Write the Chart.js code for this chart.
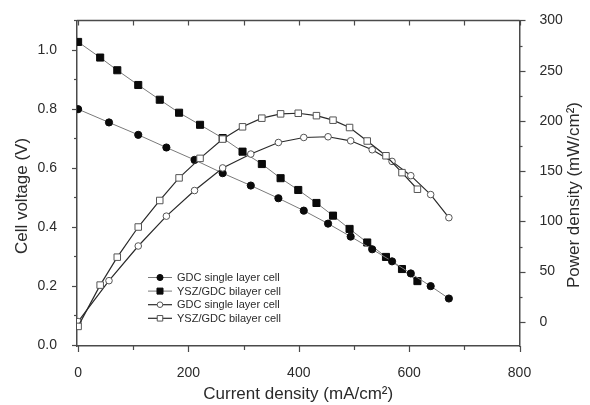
<!DOCTYPE html>
<html>
<head>
<meta charset="utf-8">
<script src="https://cdn.jsdelivr.net/npm/chart.js@4.4.1/dist/chart.umd.min.js"></script>
<style>
  html, body { margin: 0; padding: 0; background: #ffffff; }
  #wrap { width: 590px; height: 405px; position: relative; }
</style>
</head>
<body>
<div id="wrap"><canvas id="c" width="590" height="405"></canvas></div>
<script>
// ---- Data ----
const currentBilayer = [0, 40, 71, 109, 148, 183, 221, 262, 298, 333, 367, 399, 432, 462, 492, 524, 558, 587, 615];
const voltageBilayer = [1.027, 0.974, 0.931, 0.881, 0.831, 0.787, 0.746, 0.701, 0.655, 0.613, 0.565, 0.525, 0.481, 0.438, 0.393, 0.347, 0.298, 0.257, 0.216];
const powerBilayer = [-4.5, 36.6, 64.4, 94.4, 120.8, 143.3, 162.7, 181.9, 194.1, 202.7, 207.0, 207.6, 205.2, 200.7, 193.4, 180.0, 165.3, 148.5, 132.0];

const currentSingle = [0, 56, 109, 160, 211, 262, 313, 363, 409, 453, 494, 533, 569, 603, 639, 672];
const voltageSingle = [0.799, 0.754, 0.712, 0.669, 0.627, 0.582, 0.540, 0.497, 0.455, 0.411, 0.367, 0.324, 0.283, 0.242, 0.199, 0.157];
const powerSingle = [0.3, 41.0, 75.5, 105.2, 130.7, 153.2, 167.0, 178.5, 183.5, 184.2, 180.2, 171.3, 159.7, 145.5, 126.7, 103.7];

const seriesLabels = ["GDC single layer cell", "YSZ/GDC bilayer cell", "GDC single layer cell", "YSZ/GDC bilayer cell"];

const xTicks = [0, 200, 400, 600, 800];
const voltageTicks = [0.0, 0.2, 0.4, 0.6, 0.8, 1.0];
const powerTicks = [0, 50, 100, 150, 200, 250, 300];

const xTitle = "Current density (mA/cm\u00B2)";
const leftTitle = "Cell voltage (V)";
const rightTitle = "Power density (mW/cm\u00B2)";

// ---- Helpers ----
const pts = (xs, ys) => xs.map((x, i) => ({ x: x, y: ys[i] }));
const FONT = "'Liberation Sans', Arial, sans-serif";
const AXIS_COLOR = '#4a4a4a';
const TEXT_COLOR = '#2b2b2b';

const frameAndExtras = {
  id: 'frameAndExtras',
  afterDraw(chart) {
    const ctx = chart.ctx;
    const a = chart.chartArea;
    const xs = chart.scales.x, yl = chart.scales.yV, yr = chart.scales.yP;
    ctx.save();
    ctx.strokeStyle = AXIS_COLOR;
    ctx.lineWidth = 1.5;
    // top frame line
    ctx.beginPath();
    ctx.moveTo(a.left, a.top); ctx.lineTo(a.right, a.top);
    ctx.stroke();
    ctx.lineWidth = 1.2;
    // x ticks: bottom (outward) and top (inward)
    for (let v = 0; v <= 800; v += 100) {
      const px = Math.round(xs.getPixelForValue(v)) + 0.5;
      const major = v % 200 === 0;
      ctx.beginPath();
      ctx.moveTo(px, a.bottom); ctx.lineTo(px, a.bottom + (major ? 6 : 4));
      ctx.moveTo(px, a.top); ctx.lineTo(px, a.top + 5);
      ctx.stroke();
    }
    // left ticks (outward)
    for (let i = 0; i <= 11; i++) {
      const v = i / 10;
      const py = Math.round(yl.getPixelForValue(v)) + 0.5;
      const major = i % 2 === 0;
      ctx.beginPath();
      ctx.moveTo(a.left, py); ctx.lineTo(a.left - (major ? 5 : 3), py);
      ctx.stroke();
    }
    // right ticks (outward)
    for (let v = 0; v <= 300; v += 25) {
      const py = Math.round(yr.getPixelForValue(v)) + 0.5;
      const major = v % 50 === 0;
      ctx.beginPath();
      ctx.moveTo(a.right, py); ctx.lineTo(a.right + (major ? 6 : 3), py);
      ctx.stroke();
    }

    // axis titles
    ctx.fillStyle = TEXT_COLOR;
    ctx.font = '17px ' + FONT;
    ctx.textAlign = 'center';
    ctx.textBaseline = 'middle';
    ctx.fillText(xTitle, (a.left + a.right) / 2, 394);
    ctx.save();
    ctx.translate(22, 196);
    ctx.rotate(-Math.PI / 2);
    ctx.fillText(leftTitle, 0, 0);
    ctx.restore();
    ctx.save();
    ctx.translate(574, 195);
    ctx.rotate(-Math.PI / 2);
    ctx.fillText(rightTitle, 0, 0);
    ctx.restore();

    // legend inside the plot
    const y0 = 277.5, dy = 13.6;
    ctx.font = '11px ' + FONT;
    ctx.textAlign = 'left';
    chart.data.datasets.forEach((ds, k) => {
      const y = y0 + k * dy;
      ctx.strokeStyle = ds.borderColor;
      ctx.lineWidth = ds.borderWidth;
      ctx.beginPath();
      ctx.moveTo(148, y); ctx.lineTo(172, y);
      ctx.stroke();
      ctx.fillStyle = ds.pointBackgroundColor;
      ctx.strokeStyle = ds.pointBorderColor;
      ctx.lineWidth = ds.pointBorderWidth;
      ctx.beginPath();
      const r = ds.pointRadius * 0.85;
      if (ds.pointStyle === 'rect') {
        const s = r * Math.SQRT1_2;
        ctx.rect(160 - s, y - s, 2 * s, 2 * s);
      } else {
        ctx.arc(160, y, r, 0, Math.PI * 2);
      }
      ctx.fill();
      ctx.stroke();
      ctx.fillStyle = TEXT_COLOR;
      ctx.fillText(ds.label, 177, y + 0.5);
    });
    ctx.restore();
  }
};

const ctx = document.getElementById('c').getContext('2d');
new Chart(ctx, {
  type: 'line',
  data: {
    datasets: [
      {
        label: seriesLabels[0],
        data: pts(currentSingle, voltageSingle),
        yAxisID: 'yV',
        borderColor: '#7a7a7a', borderWidth: 1,
        pointStyle: 'circle', pointRadius: 3.6,
        pointBackgroundColor: '#0a0a0a', pointBorderColor: '#0a0a0a', pointBorderWidth: 1,
        tension: 0, order: 2
      },
      {
        label: seriesLabels[1],
        data: pts(currentBilayer, voltageBilayer),
        yAxisID: 'yV',
        borderColor: '#7a7a7a', borderWidth: 1,
        pointStyle: 'rect', pointRadius: 5,
        pointBackgroundColor: '#0a0a0a', pointBorderColor: '#0a0a0a', pointBorderWidth: 1,
        tension: 0, order: 2
      },
      {
        label: seriesLabels[2],
        data: pts(currentSingle, powerSingle),
        yAxisID: 'yP',
        borderColor: '#2a2a2a', borderWidth: 1.2,
        pointStyle: 'circle', pointRadius: 3.3,
        pointBackgroundColor: '#ffffff', pointBorderColor: '#555555', pointBorderWidth: 1,
        tension: 0, order: 1
      },
      {
        label: seriesLabels[3],
        data: pts(currentBilayer, powerBilayer),
        yAxisID: 'yP',
        borderColor: '#2a2a2a', borderWidth: 1.2,
        pointStyle: 'rect', pointRadius: 4.6,
        pointBackgroundColor: '#ffffff', pointBorderColor: '#555555', pointBorderWidth: 1,
        tension: 0, order: 0
      }
    ]
  },
  options: {
    responsive: false,
    animation: false,
    devicePixelRatio: 1,
    layout: { padding: { top: 20, left: 0, right: 0, bottom: 0 } },
    plugins: { legend: { display: false }, tooltip: { enabled: false } },
    scales: {
      x: {
        type: 'linear', position: 'bottom',
        min: -2, max: 800,
        afterBuildTicks: s => { s.ticks = xTicks.map(v => ({ value: v })); },
        afterFit: s => { s.height = 59; },
        grid: { display: false },
        border: { display: true, color: AXIS_COLOR, width: 1.5 },
        ticks: { padding: 11, color: TEXT_COLOR, font: { size: 14, family: FONT }, maxRotation: 0, callback: v => String(v) }
      },
      yV: {
        type: 'linear', position: 'left',
        min: -0.004, max: 1.1,
        afterBuildTicks: s => { s.ticks = voltageTicks.map(v => ({ value: v })); },
        afterFit: s => { s.width = 77; },
        grid: { display: false },
        border: { display: true, color: AXIS_COLOR, width: 1.5 },
        ticks: { padding: 12, color: TEXT_COLOR, font: { size: 14, family: FONT }, callback: v => Number(v).toFixed(1) }
      },
      yP: {
        type: 'linear', position: 'right',
        min: -24, max: 300,
        afterBuildTicks: s => { s.ticks = powerTicks.map(v => ({ value: v })); },
        afterFit: s => { s.width = 70.5; },
        grid: { display: false },
        border: { display: true, color: AXIS_COLOR, width: 1.5 },
        ticks: { padding: 12, color: TEXT_COLOR, font: { size: 14, family: FONT }, callback: v => String(v) }
      }
    }
  },
  plugins: [frameAndExtras]
});
</script>
</body>
</html>
